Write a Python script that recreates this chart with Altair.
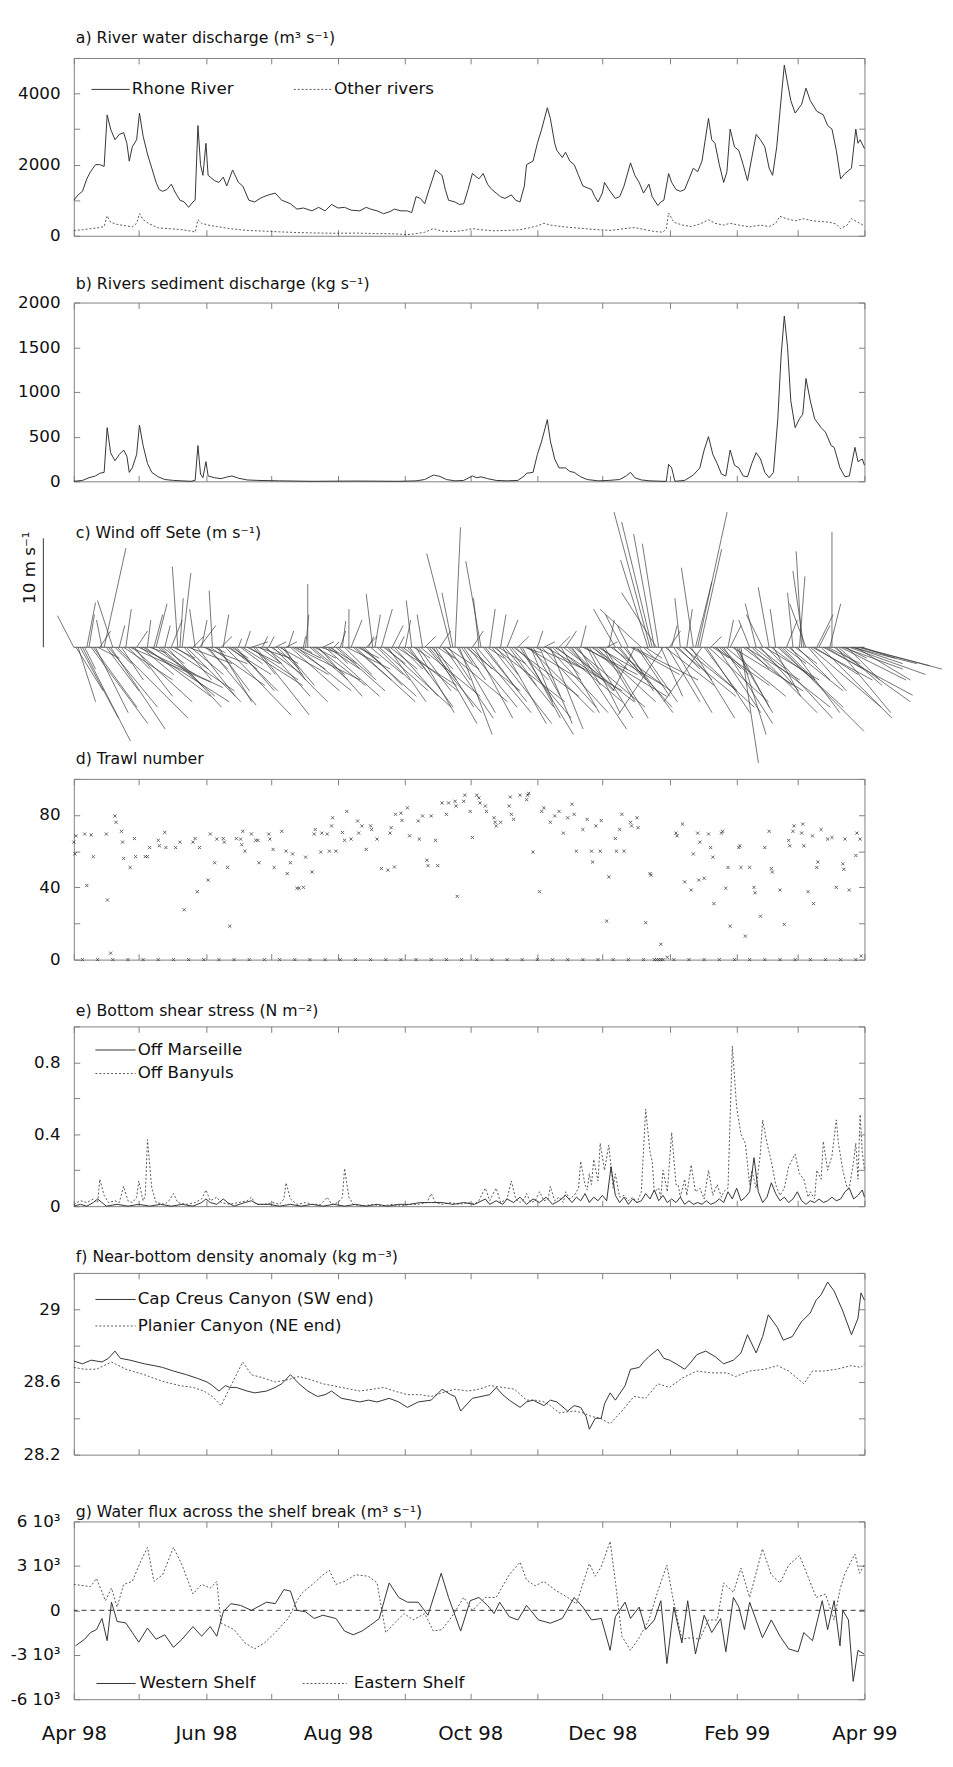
import altair as alt
import pandas as pd

# ------------------------------------------------------------------ data
MONTH_DAYS = [0, 30, 61, 91, 122, 153, 183, 214, 244, 275, 306, 334, 365]
X_LABELS = {0: "Apr 98", 61: "Jun 98", 122: "Aug 98", 183: "Oct 98",
            244: "Dec 98", 306: "Feb 99", 365: "Apr 99"}

TITLES = ["a) River water discharge (m³ s⁻¹)",
          "b) Rivers sediment discharge (kg s⁻¹)",
          "c) Wind off Sete (m s⁻¹)",
          "d) Trawl number",
          "e) Bottom shear stress (N m⁻²)",
          "f) Near-bottom density anomaly (kg m⁻³)",
          "g)  Water flux across the shelf break (m³ s⁻¹)"]

# a) river water discharge (day since 1 Apr 1998, m3/s)
RHONE = [(0,1000),(2,1150),(4,1250),(6,1600),(7.7,1800),(10,2000),(12,2000),(14,1950),(15.4,3400),(17,3000),(19,2700),(21,2850),(23,2900),(24.5,2600),(25.6,2100),(27,2500),(29,2700),(30.3,3450),(32,2800),(34,2300),(36,1900),(38,1500),(39.4,1300),(41,1250),(43,1300),(45,1450),(47,1200),(49,1000),(51,950),(53,800),(55,950),(56,1000),(57.3,3100),(58.5,2000),(59.6,1700),(61,2600),(62,1700),(63,1650),(65,1550),(67,1500),(69,1650),(70.6,1400),(73.3,1850),(76,1500),(78,1400),(80.8,1000),(83.5,950),(86,1050),(87.7,1100),(90,1150),(93,1200),(96,1000),(100,900),(103,750),(106,780),(110,700),(113,800),(116,700),(119,880),(122,780),(125,800),(128,720),(132,700),(135,800),(137,750),(140,700),(143,620),(146,680),(148,750),(151,700),(154,700),(156,650),(158,1100),(160,1050),(162,900),(164,1300),(167,1850),(170,1700),(171.5,1300),(173,1000),(176,950),(178,880),(180,900),(182,1300),(184,1750),(187,1600),(189,1750),(191,1450),(193,1300),(195,1200),(197,1100),(199,1050),(202,1150),(204,1000),(206,950),(208,1400),(209,2000),(212,2100),(214,2600),(216,3000),(218.6,3600),(220,3300),(222,2600),(223,2400),(225.5,2200),(227,2350),(229,2100),(231,2000),(233,1700),(235,1400),(237,1350),(239,1300),(240.5,1100),(242,950),(244,1200),(245,1500),(247,1300),(250,1050),(252,1100),(254,1400),(257,2050),(259,1700),(261,1500),(263,1200),(265.5,1450),(267,1100),(269.6,850),(271,950),(272.4,1000),(274.6,1750),(276,1500),(278,1300),(280,1250),(282,1300),(284,1600),(286,1900),(288,1800),(290,2100),(293,3300),(294.5,2700),(296,2600),(298,2000),(300,1500),(301.5,1800),(303,3000),(305,2500),(307,2400),(309,2000),(311,1550),(313,2200),(315,2850),(317,2700),(319,2500),(321,1900),(322.6,1700),(324.5,2500),(326,3500),(328,4800),(329.5,4300),(331,3800),(333,3450),(336,3700),(338,4150),(340,3800),(343,3500),(346,3400),(348,3100),(350,3000),(352,2400),(354,1600),(356,1750),(359,1900),(361,3000),(362,2600),(363,2700),(365,2450)]
OTHER_RIVERS = [(0,150),(4,170),(8,200),(12,230),(14,260),(15.4,560),(17,380),(20,320),(24,280),(27,250),(29,350),(30.3,620),(32,450),(35,330),(39,220),(44,200),(50,170),(55,120),(56,100),(57.3,450),(59,350),(62,300),(66,260),(72,200),(80,150),(88,130),(95,110),(103,90),(110,80),(120,70),(130,75),(140,60),(148,55),(154,30),(158,60),(162,100),(166,200),(170,130),(176,120),(180,150),(184,200),(188,170),(194,140),(200,150),(206,170),(210,220),(214,280),(217,350),(220,300),(225,260),(230,230),(236,200),(242,170),(248,150),(254,200),(259,230),(263,180),(268,120),(272,100),(273.5,200),(274.6,640),(277,380),(281,300),(285,260),(289,330),(293,450),(296,350),(300,300),(303,350),(307,300),(312,250),(317,300),(321,260),(324,350),(326,550),(329,480),(333,420),(337,480),(341,420),(345,400),(349,380),(352,330),(354,200),(357,300),(359,480),(362,380),(365,280)]

# b) sediment discharge (kg/s)
SEDIMENT = [(0,0),(4,10),(7,40),(10,60),(12,90),(14,100),(15.4,600),(17,320),(19,230),(21,300),(23,350),(24.5,280),(25.6,100),(27,150),(29,300),(30.3,630),(32,400),(34,200),(36,100),(39,50),(42,20),(46,10),(50,5),(54,0),(56,10),(57.3,400),(58.5,80),(59.6,40),(61,220),(62,60),(65,40),(68,30),(71,50),(73,60),(76,35),(80,15),(85,10),(95,5),(110,0),(130,3),(150,0),(158,5),(162,20),(166,70),(169,55),(172,20),(176,5),(180,10),(184,60),(186,40),(188,50),(191,30),(195,10),(200,5),(205,10),(208,60),(209,90),(212,100),(214,300),(216,450),(218.6,690),(220,450),(222,250),(224,150),(227,150),(229,110),(231,100),(234,50),(237,20),(242,5),(247,10),(252,20),(255,60),(257,100),(259,40),(262,15),(266,5),(272,0),(273.5,0),(274.6,190),(276,150),(277.5,0),(282,10),(284,40),(286,70),(289,150),(291,350),(293,500),(295,300),(297,200),(299,80),(301,60),(303,350),(305,180),(307,150),(309,60),(311,50),(313,200),(315,320),(317,250),(319,100),(321,40),(323,100),(325,700),(326.5,1400),(328,1850),(329.5,1500),(331,900),(333,600),(335,700),(336.5,750),(338,1150),(340,900),(342,700),(345,600),(347,550),(349.6,400),(351,380),(353.7,150),(356,50),(358,60),(360.6,380),(362,220),(364,250),(365,180)]

# c) wind sticks: (day, u east m/s, v north m/s)
WIND = [(0,-1.5,2.9),(2,1.6,-5.0),(4,4.4,-8.6),(6,0.8,4.1),(8,5.2,-7.0),(10,3.0,-6.0),(12,1.0,1.5),(14,2.0,9.1),(16,4.5,-5.5),(18,-1.4,4.3),(20,6.5,-6.5),(22,2.0,-3.0),(24,0.5,3.5),(26,7.4,-3.2),(28,3.5,-4.5),(30,7.7,-3.7),(32,7.9,-5.0),(34,0.3,2.5),(36,4.0,-2.5),(38,1.0,4.0),(40,5.0,-4.5),(42,0.5,2.0),(44,6.0,-4.0),(46,2.0,-1.0),(48,-0.5,7.4),(50,0.8,6.8),(52,5.0,-5.0),(54,3.0,-2.5),(56,-0.5,3.5),(58,1.5,2.0),(60,4.0,-1.5),(62,4.4,-5.3),(64,-0.3,5.2),(66,3.0,-4.0),(68,1.0,1.0),(70,6.0,-6.2),(72,2.5,-2.0),(74,4.0,-4.0),(76,0.3,0.8),(78,5.5,-3.5),(80,3.0,-1.5),(82,1.5,0.5),(84,4.9,-6.2),(86,2.0,-1.5),(88,3.5,-2.5),(90,0.5,1.0),(92,5.0,-5.0),(94,2.0,-2.0),(96,3.0,-3.5),(98,1.0,0.5),(100,4.5,-4.0),(102,6.0,-3.0),(104,2.0,-1.0),(106,0.2,1.0),(108,0.0,5.8),(110,3.0,-2.5),(112,4.5,-3.5),(114,1.5,-0.5),(116,5.0,-4.5),(118,2.5,-1.5),(120,0.5,0.5),(122,3.5,-3.0),(124,0.3,2.4),(126,4.0,-2.0),(128,1.0,2.5),(130,5.5,-5.0),(132,2.0,-1.5),(134,3.5,-3.5),(136,0.5,1.0),(138,-0.6,4.9),(140,3.0,-3.0),(142,1.0,3.5),(144,6.0,-5.5),(146,2.5,-2.0),(148,4.0,-4.5),(150,0.5,1.0),(152,5.0,-4.0),(154,2.0,-2.5),(156,-0.5,4.3),(158,3.5,-6.0),(160,5.5,-4.5),(162,1.0,1.0),(164,2.5,-3.0),(166,4.0,-7.0),(168,1.5,-1.0),(170,6.0,-5.0),(172,3.0,-2.0),(174,-2.2,8.6),(176,0.5,11.0),(178,3.0,-8.0),(180,2.0,-3.0),(182,4.5,-5.5),(184,1.0,1.5),(186,5.0,-6.0),(188,-1.4,7.9),(190,3.0,-4.0),(192,0.5,3.5),(194,6.5,-5.0),(196,2.5,-1.5),(198,4.0,-7.0),(200,1.0,2.5),(202,5.5,-6.5),(204,3.0,-3.0),(206,4.9,-8.0),(208,1.5,-0.5),(210,6.0,-6.0),(212,2.5,-4.5),(214,0.5,1.5),(216,5.0,-5.5),(218,7.0,-4.0),(220,3.0,-7.5),(222,4.5,-3.0),(224,1.0,1.0),(226,6.5,-5.0),(228,2.0,-2.0),(230,5.0,-7.5),(232,3.5,-4.0),(234,0.5,2.0),(236,7.5,-4.5),(238,4.0,-6.5),(240,2.5,-2.5),(242,6.0,-3.5),(244,3.0,-5.0),(246,1.0,0.5),(248,5.5,-4.0),(250,-2.0,3.5),(252,2.0,-2.5),(254,4.5,-6.0),(256,-1.0,2.0),(258,6.0,-3.0),(260,3.0,-4.5),(262,-3.8,3.5),(264,1.5,-1.0),(266,-3.3,12.4),(268,-1.9,10.4),(270,-1.5,9.5),(272,-4.1,-6.2),(274,3.0,-5.0),(276,0.5,2.0),(278,5.5,-4.5),(280,-0.5,4.5),(282,2.5,-3.0),(284,6.0,-5.5),(286,-1.1,7.3),(288,2.7,12.4),(290,-3.5,-5.0),(292,4.0,-6.0),(294,1.0,1.0),(296,5.0,-3.5),(298,2.0,-2.0),(300,4.5,-7.0),(302,0.5,2.5),(304,6.5,-4.0),(306,3.0,-5.5),(308,1.6,-10.6),(310,5.0,-3.0),(312,-1.0,2.5),(314,7.0,-5.5),(316,2.5,-2.0),(318,-1.5,3.0),(320,6.0,-6.5),(322,4.0,-3.0),(324,-0.5,3.5),(326,7.7,-7.7),(328,2.0,-1.5),(330,5.0,-4.0),(332,-0.5,5.0),(334,3.0,-3.0),(336,-0.5,8.8),(338,-1.5,4.0),(340,6.5,-5.5),(342,4.0,-2.5),(344,1.0,2.0),(346,8.2,-4.4),(348,3.0,-1.5),(350,0.0,10.6),(352,5.0,-6.0),(354,6.0,-3.0),(356,2.0,-1.0),(358,7.0,-2.5),(360,4.5,-1.5),(362,6.6,-1.7),(364,3.0,-1.0)]
WIND_ODD = [(1,2.5,-4.0),(3,3.5,-6.5),(5,1.0,-2.0),(7,0.5,3.0),(9,4.0,-5.5),(11,2.0,-1.0),(13,-0.5,2.5),(15,3.0,-4.0),(17,5.0,-7.5),(19,1.5,-1.5),(21,0.5,2.0),(23,4.5,-3.0),(25,2.0,-2.0),(27,5.5,-5.0),(29,1.0,1.5),(31,3.0,-2.5),(33,6.0,-4.5),(35,1.5,-0.5),(37,0.8,3.0),(39,4.0,-3.5),(41,2.0,-1.5),(43,5.0,-5.5),(45,1.0,2.5),(47,3.0,-2.0),(49,0.3,4.5),(51,2.5,-3.0),(53,4.0,-1.5),(55,1.0,1.0),(57,3.5,-4.5),(59,0.5,2.5),(61,2.0,-2.0),(63,5.0,-3.5),(65,1.0,-0.5),(67,3.0,-5.0),(69,0.5,3.0),(71,4.0,-2.5),(73,1.5,-1.0),(75,3.5,-4.0),(77,2.0,-1.5),(79,0.5,1.5),(81,4.5,-3.0),(83,2.0,-2.5),(85,3.0,-1.0),(87,0.5,1.0),(89,4.0,-4.5),(91,2.5,-1.5),(93,1.0,0.5),(95,4.5,-2.5),(97,2.0,-3.0),(99,0.5,1.5),(101,3.0,-2.0),(103,5.0,-4.0),(105,1.0,-0.5),(107,0.3,3.0),(109,3.5,-3.0),(111,2.0,-1.0),(113,4.0,-4.5),(115,1.0,0.5),(117,3.0,-2.0),(119,1.5,-1.5),(121,4.5,-4.0),(123,0.5,1.5),(125,2.5,-2.5),(127,0.0,3.5),(129,3.5,-3.0),(131,2.0,-1.0),(133,5.0,-4.5),(135,1.0,1.0),(137,3.0,-2.5),(139,0.5,3.0),(141,4.5,-4.0),(143,2.0,-1.5),(145,3.5,-5.0),(147,1.0,2.0),(149,5.5,-3.5),(151,2.0,-2.0),(153,0.5,2.5),(155,4.0,-5.5),(157,1.5,-1.0),(159,3.0,-4.0),(161,-0.5,3.0),(163,5.0,-6.0),(165,2.0,-2.0),(167,3.5,-5.5),(169,1.0,1.5),(171,4.5,-6.5),(173,2.0,-3.0),(175,-1.0,5.0),(177,3.5,-6.0),(179,1.0,-1.5),(181,5.0,-4.0),(183,2.0,-2.0),(185,3.5,-6.5),(187,-0.5,4.5),(189,4.0,-5.0),(191,1.5,-1.0),(193,5.5,-7.0),(195,2.0,-2.5),(197,0.5,3.0),(199,4.5,-5.5),(201,2.5,-3.5),(203,6.0,-4.5),(205,1.0,1.0),(207,3.5,-6.5),(209,5.0,-3.0),(211,2.0,-5.0),(213,4.5,-2.0),(215,3.0,-7.0),(217,1.0,0.5),(219,5.5,-6.0),(221,2.5,-2.5),(223,6.0,-5.0),(225,3.5,-6.0),(227,1.0,1.5),(229,4.0,-4.0),(231,6.5,-5.5),(233,2.0,-3.5),(235,5.0,-2.5),(237,3.0,-6.0),(239,1.5,-1.0),(241,5.5,-5.0),(243,2.5,-2.0),(245,4.0,-6.5),(247,0.5,2.5),(249,3.0,-3.0),(251,5.0,-5.5),(253,-1.5,3.0),(255,2.5,-4.0),(257,4.5,-2.5),(259,-2.0,-4.0),(261,3.5,-5.0),(263,1.0,-1.0),(265,-2.5,8.0),(267,-2.8,11.5),(269,-3.2,5.0),(271,2.0,-4.5),(273,4.5,-3.5),(275,1.0,1.5),(277,3.5,-6.0),(279,2.0,-2.0),(281,5.0,-4.0),(283,0.5,3.5),(285,4.0,-6.5),(287,1.5,6.0),(289,2.0,9.0),(291,3.0,-4.0),(293,5.5,-5.0),(295,1.5,-1.0),(297,4.0,-6.0),(299,2.5,-2.5),(301,5.5,-4.5),(303,1.0,2.0),(305,3.5,-6.0),(307,2.5,-8.0),(309,4.5,-3.5),(311,2.0,-2.0),(313,6.0,-6.0),(315,-1.0,4.0),(317,3.5,-4.0),(319,5.0,-3.0),(321,-1.0,5.5),(323,2.5,-4.5),(325,6.0,-5.5),(327,3.0,-3.0),(329,1.0,2.5),(331,4.5,-6.0),(333,2.0,-1.5),(335,0.5,6.5),(337,-1.0,7.0),(339,3.5,-4.0),(341,5.5,-3.0),(343,1.5,3.0),(345,6.5,-6.5),(347,3.5,-2.0),(349,1.0,4.0),(351,7.0,-5.0),(353,4.0,-3.5),(355,5.5,-2.0),(357,3.0,-3.0),(359,6.0,-1.5),(361,5.0,-3.0),(363,7.5,-2.0)]
SCALE_BAR = [0, 10]

# d) trawl number
TRAWL = [(0,65),(0.5,58.5),(1,68.5),(5,69.5),(6,41),(8,69),(9,57),(15,69.5),(15.5,33),(17,3.6),(19,79.5),(19.5,76),(22,71),(22.5,65),(23,56),(26,51),(28,67),(28.5,57),(33,57),(34,57),(35,62),(39,66),(39.5,63),(42,70.4),(42.5,62),(47,62),(49,65),(51,27.6),(55,65),(56,67),(57,37.6),(58,62),(62,44),(63,69.5),(65,53.6),(66,66.7),(69,67),(69.5,65),(71,51),(72,18.5),(75,67),(77,66.7),(77.5,63.6),(78,71),(79,60),(82,69.5),(84,66),(85,66),(85.5,53.6),(90,69.5),(90.5,66.7),(92,61),(92.5,51),(96,71),(98,60),(98.5,47.6),(100,53.6),(101,58.5),(103,39.5),(104,39.5),(106,40),(107,56.7),(110,48.5),(111,69.5),(111.5,72),(114,59.5),(114.5,70),(117,69.5),(118,60),(119,74),(119.5,78.5),(121,60),(124,70.4),(125,66),(126,82),(128,66.7),(131,76.7),(131.5,70),(133,74),(135,61),(137,74),(137.5,72),(140,66.7),(142,50.4),(145,49.5),(146,70),(146.5,73),(148,51.3),(148.5,80.4),(151,81),(151.5,77),(154,84),(155,68.5),(159,76.7),(159.5,66.7),(161,79.5),(163,55),(163.5,52),(165,79.5),(167,66),(168,52),(170,86.7),(172,80.4),(173,86.7),(176,87.6),(176.5,85),(177,35),(180,87.6),(180.5,91),(183,82),(184,67.6),(186,91),(187,89.5),(187.5,86.7),(190,85),(190.5,82),(194,78.5),(194.5,76),(195,74),(197,76),(201,85),(201.5,90),(202,80.4),(203,77.6),(206,91),(209,88.5),(209.5,91),(210,92),(212,59.5),(215,37.6),(216,82),(217,84),(220,76),(222,79.5),(224,82),(226,70),(228,78.5),(230,86),(231,80.4),(232,60),(235,72),(237,77.6),(239,60),(239.5,54),(241,74),(243,60),(243.5,77),(246,21.3),(247,45.8),(250,67),(250.5,60),(252,72),(253,80.4),(254,60),(257,76),(257.5,74),(260,78.5),(260.5,73),(264,20.4),(266,47.6),(266.5,46.7),(271,8.5),(274,1.3),(278,70),(278.5,68.5),(281,75),(282,43),(285,38.5),(286,58.5),(288,70),(288.5,44),(289,65),(291,45),(293,69.5),(294,62),(295,56.7),(295.5,31),(299,70),(299.5,71),(301,39.5),(302,51),(303,18.5),(307,62),(307.5,63),(308,51),(310,13),(312,51),(314,40),(314.5,37),(317,24),(319,62),(321,71),(322,50.4),(322.5,48.5),(326,38.5),(328,19.5),(330,66),(330.5,63),(332,71),(332.5,74),(336,70),(336.5,75),(337,63),(339,37.6),(341,68.5),(341.5,31),(343,51),(343.5,54),(345,72),(348,66.7),(350,67.6),(352,40),(355,53),(355.5,50),(356,66.7),(358,38.5),(361,57.6),(361.5,70),(363,66.7),(363.5,2)]
TRAWL_ZERO_DAYS = [4, 11, 18, 25, 32, 39, 46, 53, 60, 67, 74, 81, 88, 95, 102, 109, 116, 123, 130, 137, 144, 151, 158, 165, 172, 179, 186, 193, 200, 207, 214, 221, 228, 235, 242, 249, 256, 263, 268, 269, 270, 271, 272, 277, 284, 291, 298, 305, 312, 319, 326, 333, 340, 347, 354, 361]

# e) bottom shear stress (N/m2)
MARSEILLE = [(0,0.0),(3,0.01),(6,0.0),(9,0.02),(11,0.04),(13,0.02),(15,0.0),(20,0.01),(25,0.0),(30,0.01),(35,0.0),(40,0.01),(45,0.0),(50,0.01),(55,0.0),(59,0.02),(61,0.04),(63,0.02),(66,0.01),(69,0.04),(71,0.02),(74,0.0),(79,0.02),(82,0.03),(85,0.01),(90,0.01),(95,0.0),(100,0.01),(105,0.0),(110,0.01),(115,0.0),(120,0.01),(125,0.0),(130,0.01),(135,0.0),(140,0.01),(145,0.0),(150,0.01),(155,0.01),(160,0.02),(165,0.02),(170,0.02),(175,0.01),(180,0.02),(185,0.01),(190,0.04),(192,0.01),(195,0.03),(198,0.01),(200,0.04),(203,0.02),(206,0.05),(209,0.01),(212,0.04),(215,0.02),(218,0.05),(221,0.01),(224,0.03),(227,0.06),(230,0.02),(232,0.05),(234,0.03),(236,0.07),(238,0.02),(240,0.05),(242,0.03),(244,0.06),(246,0.03),(248,0.22),(250,0.06),(252,0.02),(254,0.05),(256,0.01),(258,0.04),(260,0.02),(262,0.03),(264,0.07),(266,0.04),(268,0.09),(270,0.03),(272,0.06),(274,0.02),(276,0.04),(278,0.02),(280,0.05),(282,0.01),(284,0.03),(286,0.01),(288,0.02),(290,0.01),(292,0.03),(294,0.01),(296,0.02),(298,0.04),(300,0.02),(302,0.08),(304,0.04),(306,0.1),(308,0.03),(310,0.05),(312,0.08),(314,0.27),(316,0.08),(318,0.02),(320,0.05),(322,0.13),(324,0.07),(326,0.03),(328,0.05),(330,0.02),(332,0.04),(334,0.08),(336,0.03),(338,0.01),(340,0.03),(342,0.02),(344,0.04),(346,0.02),(348,0.03),(350,0.05),(352,0.03),(354,0.04),(356,0.08),(358,0.1),(360,0.04),(362,0.06),(364,0.09),(365,0.05)]
BANYULS = [(0,0.01),(3,0.03),(6,0.02),(9,0.04),(11,0.02),(12,0.15),(14,0.06),(16,0.02),(19,0.03),(21,0.02),(23,0.11),(25,0.03),(27,0.02),(29,0.05),(30,0.14),(32,0.03),(33,0.06),(34,0.37),(36,0.1),(38,0.02),(42,0.01),(44,0.03),(46,0.07),(48,0.02),(52,0.01),(56,0.02),(59,0.04),(61,0.09),(63,0.03),(66,0.05),(68,0.02),(72,0.01),(76,0.02),(80,0.03),(82,0.05),(84,0.01),(88,0.01),(92,0.02),(95,0.01),(97,0.04),(98,0.13),(100,0.04),(103,0.01),(107,0.02),(110,0.01),(114,0.01),(117,0.05),(119,0.01),(122,0.02),(124,0.05),(125,0.21),(127,0.05),(129,0.01),(133,0.0),(138,0.01),(142,0.0),(147,0.01),(151,0.0),(155,0.01),(159,0.01),(163,0.02),(165,0.07),(167,0.02),(170,0.01),(174,0.02),(178,0.01),(182,0.02),(185,0.01),(187,0.03),(189,0.08),(190,0.1),(192,0.03),(194,0.08),(195,0.1),(197,0.02),(200,0.04),(202,0.14),(204,0.04),(206,0.02),(208,0.04),(209,0.07),(211,0.02),(213,0.03),(215,0.08),(217,0.03),(219,0.04),(220,0.11),(222,0.03),(224,0.05),(226,0.02),(227,0.08),(229,0.04),(231,0.06),(233,0.1),(234,0.25),(236,0.12),(237,0.09),(238,0.18),(239,0.12),(240,0.26),(242,0.14),(243,0.35),(245,0.2),(247,0.34),(249,0.1),(250,0.18),(252,0.05),(254,0.06),(256,0.03),(258,0.05),(260,0.02),(262,0.08),(264,0.54),(266,0.3),(267,0.25),(268,0.08),(270,0.1),(271,0.05),(272,0.2),(274,0.08),(276,0.41),(278,0.12),(279,0.12),(280,0.05),(282,0.15),(283,0.06),(285,0.23),(287,0.08),(289,0.1),(291,0.04),(293,0.2),(295,0.06),(297,0.12),(299,0.05),(300,0.08),(302,0.1),(304,0.89),(306,0.55),(308,0.4),(310,0.35),(312,0.12),(313,0.2),(315,0.1),(317,0.3),(318,0.48),(320,0.35),(322,0.25),(324,0.12),(326,0.06),(328,0.1),(330,0.22),(333,0.29),(335,0.18),(337,0.15),(339,0.05),(340,0.08),(342,0.04),(343,0.2),(345,0.15),(346,0.36),(348,0.2),(350,0.28),(352,0.48),(353,0.35),(355,0.2),(357,0.1),(358,0.1),(360,0.25),(361,0.35),(362,0.15),(363,0.51),(364,0.3),(365,0.2)]

# f) near-bottom density anomaly (kg/m3)
CAP_CREUS = [(0,28.715),(4,28.70),(8,28.72),(13,28.71),(16,28.73),(19,28.77),(21.5,28.73),(26,28.72),(32.5,28.70),(37,28.69),(41,28.68),(46,28.66),(52,28.64),(57,28.62),(61.5,28.60),(64,28.58),(67,28.55),(70,28.58),(72,28.57),(75,28.57),(80,28.55),(83.5,28.54),(89,28.55),(93,28.57),(96,28.59),(100,28.64),(104,28.59),(108,28.55),(112.5,28.52),(116,28.53),(119,28.55),(123.5,28.51),(128,28.50),(132,28.49),(136,28.50),(140,28.49),(145.6,28.51),(150,28.49),(154,28.46),(159,28.49),(165,28.50),(170,28.56),(174,28.53),(176,28.52),(178.6,28.44),(184,28.51),(188,28.52),(192,28.53),(195,28.57),(198,28.53),(201,28.50),(206,28.46),(209,28.49),(212,28.50),(217,28.47),(220,28.50),(223,28.49),(228,28.44),(231,28.47),(234,28.46),(236.5,28.41),(238,28.34),(240.7,28.40),(243.5,28.40),(245,28.48),(247.6,28.54),(250,28.50),(254.5,28.58),(257,28.67),(261,28.68),(263,28.71),(265.5,28.74),(269.6,28.78),(272.4,28.73),(275,28.72),(278,28.70),(282,28.67),(285,28.71),(287.6,28.75),(291.7,28.77),(296,28.74),(300,28.70),(304.5,28.72),(308,28.76),(311,28.86),(315,28.76),(318,28.85),(320.6,28.97),(324.8,28.90),(327.5,28.83),(331.7,28.85),(335.8,28.93),(340,28.98),(342.7,29.05),(345,29.08),(348,29.15),(351,29.10),(355,28.99),(359,28.86),(362,28.95),(363.4,29.09),(365,29.05)]
PLANIER = [(0,28.68),(5,28.67),(10.5,28.67),(17.4,28.71),(24,28.67),(32.5,28.64),(37,28.62),(42,28.60),(49,28.58),(55,28.57),(60,28.55),(64,28.52),(68,28.47),(72.5,28.58),(78,28.71),(82,28.64),(88,28.62),(93,28.60),(98,28.61),(104,28.63),(110,28.61),(115,28.59),(123.5,28.57),(132,28.55),(138,28.56),(143,28.57),(148,28.55),(154,28.53),(160,28.53),(165,28.52),(170,28.54),(176,28.56),(182,28.55),(187,28.56),(192,28.58),(198,28.57),(203.5,28.56),(209,28.50),(213,28.50),(217,28.49),(220,28.47),(224,28.43),(231,28.44),(235,28.43),(239,28.41),(243,28.40),(247.6,28.37),(253,28.44),(258.6,28.52),(264,28.51),(269.6,28.59),(275,28.57),(280.7,28.62),(284,28.64),(287.6,28.66),(294.5,28.65),(301.5,28.65),(305.5,28.63),(312,28.66),(319,28.67),(324.8,28.69),(330,28.66),(337,28.59),(341,28.66),(346,28.66),(352,28.67),(359,28.69),(363.4,28.68),(365,28.70)]

# g) water flux across the shelf break (m3/s)
WESTERN = [(0.8,-2400),(5,-1950),(7.7,-1500),(10.5,-1300),(13,-550),(15.4,-2050),(17.4,550),(20,-750),(24,-850),(27,-1500),(30,-2150),(34,-1200),(38,-1950),(42,-1650),(46,-2500),(50,-1950),(55,-1100),(59,-1750),(63,-1100),(66,-1750),(69,-100),(72.5,450),(77,330),(82,0),(89,550),(93,450),(97,1400),(100,1300),(103,0),(107,-100),(111,-550),(115,-330),(121,-550),(125,-1400),(129,-1650),(133,-1400),(137,-1000),(141,-550),(145.6,1850),(150,870),(154,550),(159,550),(163.5,-330),(169.6,2500),(173,870),(178.6,-1400),(183,650),(187,870),(191,330),(194,-220),(196.6,550),(201,-430),(205,-650),(209,330),(214.5,-650),(220,-870),(225.5,-550),(231,870),(235,220),(239,-650),(243.5,-550),(247.6,-2700),(250,-430),(254.5,550),(257,-550),(261,220),(264,-1300),(268,-650),(271,650),(273.8,-3600),(277,220),(280.7,-2200),(283.4,650),(287,-2950),(291,-330),(294.5,-1500),(298.6,-550),(301,-2800),(304.5,870),(307,220),(309.6,-1300),(312,550),(317.9,-1850),(322,-650),(326,-1750),(330,-2600),(334.4,-2800),(337,-1500),(341,-2050),(345.5,650),(348,-1300),(351,650),(353.7,-2400),(355,0),(357.6,-650),(359.8,-4800),(362,-2700),(364.8,-2950)]
EASTERN = [(0,1750),(7.7,1600),(10.5,2150),(14.6,650),(17.4,1500),(20,220),(23,1750),(27,1950),(31,3350),(34,4250),(37,1950),(41,2400),(46,4250),(50,3050),(55,1100),(59,1750),(63,1500),(66,1950),(68,-870),(74,-1300),(79,-2200),(83.5,-2600),(88,-2200),(93,-1500),(99,-550),(103,650),(105.6,1200),(111,1850),(115,2400),(118,2700),(121,1750),(125,1950),(130,2400),(136,2300),(140,1850),(144,-1500),(148,-870),(152.5,-220),(156.6,-650),(162,-220),(166,-1400),(170,-1300),(174.5,-430),(180,870),(184,0),(190,870),(195,870),(201,2400),(206,3250),(209,2050),(213,1650),(217,1950),(223,1300),(228,870),(232,430),(238,3150),(240.7,2300),(243.5,2950),(247.6,4650),(250,1950),(253,-1750),(257,-2700),(261,-1850),(265.5,-650),(269.6,1300),(273.8,3050),(276.5,870),(280.7,-1950),(284.8,-1850),(289,-1950),(293,-650),(297,-650),(300,1850),(304.5,1200),(308,2850),(312,870),(317.9,4150),(322,2400),(326,1850),(330,3050),(335,3700),(338.6,2400),(342.7,870),(347,1100),(351,-650),(353.7,1400),(356,2500),(360.6,3800),(362.8,2500),(364.8,3050)]
ZERO_LINE = [0]

# axis ticks / labels per panel
A_TICKS, A_LABELS = [0, 1000, 2000, 3000, 4000, 5000], {0: "0", 2000: "2000", 4000: "4000"}
B_TICKS, B_LABELS = [0, 500, 1000, 1500, 2000], {0: "0", 500: "500", 1000: "1000", 1500: "1500", 2000: "2000"}
D_TICKS, D_LABELS = [0, 20, 40, 60, 80, 100], {0: "0", 40: "40", 80: "80"}
E_TICKS, E_LABELS = [0, 0.2, 0.4, 0.6, 0.8, 1.0], {0: "0", 0.4: "0.4", 0.8: "0.8"}
F_TICKS, F_LABELS = [28.2, 28.4, 28.6, 28.8, 29.0, 29.2], {28.2: "28.2", 28.6: "28.6", 29.0: "29"}
G_TICKS = [-6000, -3000, 0, 3000, 6000]
G_LABELS = {-6000: "-6 10³", -3000: "-3 10³", 0: "0", 3000: "3 10³", 6000: "6 10³"}

# ------------------------------------------------------------------ style
FONT = "DejaVu Sans"
W = 805
TICK = 6
FRAME_C = "#808080"
INK = "#333333"
DOT = "#555555"
TXT = "#111111"
XSCALE = alt.Scale(domain=[0, 365], nice=False, zero=False)
C_H = 167
C_BASE = 101          # px from top of panel c to the stick baseline
C_PX_PER_MS = 11.1
C_DOM = [-(C_H - C_BASE) / C_PX_PER_MS, C_BASE / C_PX_PER_MS]
K_DAYS_PER_MS = C_PX_PER_MS / (W / 365.0)


def lab_expr(mapping):
    expr = "''"
    for k, v in reversed(list(mapping.items())):
        expr = f"(abs(datum.value - ({k})) < 1e-6 ? '{v}' : {expr})"
    return expr


def x_axis(show):
    if show:
        return alt.Axis(orient="bottom", values=MONTH_DAYS, labelExpr=lab_expr(X_LABELS),
                        tickSize=TICK, offset=-TICK, domain=False, grid=False, title=None,
                        labelFontSize=20, labelPadding=25, labelFlush=False, labelOverlap=False,
                        labelColor=TXT, labelFont=FONT, tickColor=FRAME_C)
    return alt.Axis(orient="bottom", values=MONTH_DAYS, labels=False, tickSize=TICK,
                    offset=-TICK, domain=False, grid=False, title=None, tickColor=FRAME_C)


def y_enc(ydom, ticks, labels):
    return alt.Y("val:Q", scale=alt.Scale(domain=ydom, nice=False, zero=False),
                 axis=alt.Axis(orient="left", values=ticks, labelExpr=lab_expr(labels),
                               tickSize=TICK, offset=-TICK, domain=False, grid=False, title=None,
                               labelFontSize=17, labelPadding=14, labelOverlap=False,
                               labelFlush=False, labelColor=TXT, labelFont=FONT, tickColor=FRAME_C))


def frame_layer(ydom, ticks):
    df = pd.DataFrame({"day": [0], "val": [ydom[0]]})
    return alt.Chart(df).mark_point(opacity=0).encode(
        x=alt.X("day:Q", scale=XSCALE,
                axis=alt.Axis(orient="top", values=MONTH_DAYS, labels=False, tickSize=TICK,
                              offset=-TICK, domain=False, grid=False, title=None, tickColor=FRAME_C)),
        y=alt.Y("val:Q", scale=alt.Scale(domain=ydom, nice=False, zero=False),
                axis=alt.Axis(orient="right", values=ticks, labels=False, tickSize=TICK,
                              offset=-TICK, domain=False, grid=False, title=None, tickColor=FRAME_C)))


def line_layer(pairs, dotted, ydom, ticks, labels, show_x=False):
    df = pd.DataFrame(pairs, columns=["day", "val"])
    kw = dict(color=DOT if dotted else INK, strokeWidth=1)
    if dotted:
        kw["strokeDash"] = [2, 2]
    return alt.Chart(df).mark_line(**kw).encode(
        x=alt.X("day:Q", scale=XSCALE, axis=x_axis(show_x)),
        y=y_enc(ydom, ticks, labels))


def legend_layers(entries):
    out = []
    for name, dotted, x0, y, length, lx in entries:
        df = pd.DataFrame({"series": [name]})
        kw = dict(color=DOT if dotted else INK, strokeWidth=1)
        if dotted:
            kw["strokeDash"] = [2, 2]
        out.append(alt.Chart(df).mark_rule(**kw).encode(
            x=alt.value(x0), x2=alt.value(x0 + length), y=alt.value(y)))
        out.append(alt.Chart(df).mark_text(align="left", baseline="middle", font=FONT,
                                           fontSize=17, color=TXT).encode(
            x=alt.value(lx), y=alt.value(y), text="series:N"))
    return out


def title_layer(i, off):
    df = pd.DataFrame({"t": [TITLES[i]]})
    return alt.Chart(df).mark_text(align="left", baseline="alphabetic", font=FONT,
                                   fontSize=16, color=TXT).encode(
        x=alt.value(2), y=alt.value(-off), text="t:N")


def panel(layers, ydom, ticks, h, i, off):
    inner = alt.layer(*layers, title_layer(i, off))
    return alt.layer(inner, frame_layer(ydom, ticks)).resolve_scale(
        x="independent", y="independent").properties(width=W, height=h)


# a)
A_DOM = [0, 5000]
pa = panel([line_layer(OTHER_RIVERS, True, A_DOM, A_TICKS, A_LABELS),
            line_layer(RHONE, False, A_DOM, A_TICKS, A_LABELS)] +
           legend_layers([("Rhone River", False, 18, 32, 39, 59),
                          ("Other rivers", True, 224, 32, 39, 265)]),
           A_DOM, A_TICKS, 181, 0, 15)

# b)
B_DOM = [0, 2000]
pb = panel([line_layer(SEDIMENT, False, B_DOM, B_TICKS, B_LABELS)],
           B_DOM, B_TICKS, 182, 1, 14)

# c) wind sticks
wind_df = pd.DataFrame(WIND + WIND_ODD, columns=["day", "u", "v"])
c_y = alt.Scale(domain=C_DOM, nice=False, zero=False)
sticks = alt.Chart(wind_df).transform_calculate(
    x_end=f"datum.day + datum.u * {K_DAYS_PER_MS}", v0="0"
).mark_rule(color="#3a3a3a", strokeWidth=0.7).encode(
    x=alt.X("day:Q", scale=XSCALE, axis=None), x2="x_end:Q",
    y=alt.Y("v0:Q", scale=c_y, axis=None), y2="v:Q")
base_df = pd.DataFrame({"val": ZERO_LINE})
baseline = alt.Chart(base_df).mark_rule(color="#3a3a3a", strokeWidth=0.8).encode(
    y=alt.Y("val:Q", scale=c_y, axis=None))
bar_df = pd.DataFrame({"lo": [SCALE_BAR[0]], "hi": [SCALE_BAR[1]]})
bar = alt.Chart(bar_df).mark_rule(color=INK, strokeWidth=1).encode(
    x=alt.value(-31), y=alt.Y("lo:Q", scale=c_y, axis=None), y2="hi:Q")
bar_txt = alt.Chart(bar_df).mark_text(angle=270, font=FONT, fontSize=17, color=TXT).encode(
    x=alt.value(-45), y=alt.value(20), text=alt.value("10 m s⁻¹"))
pc = alt.layer(baseline, sticks, bar, bar_txt, title_layer(2, 10)).properties(
    width=W, height=C_H, view=alt.ViewBackground(stroke="transparent"))

# d) trawl number
D_DOM = [0, 100]
trawl_df = pd.concat([pd.DataFrame(TRAWL, columns=["day", "val"]),
                      pd.DataFrame({"day": TRAWL_ZERO_DAYS, "val": [0] * len(TRAWL_ZERO_DAYS)})])
pts = alt.Chart(trawl_df).mark_point(shape="M-1,-1L1,1M-1,1L1,-1", size=10, filled=False,
                                     color="#222222", strokeWidth=1).encode(
    x=alt.X("day:Q", scale=XSCALE, axis=x_axis(False)),
    y=y_enc(D_DOM, D_TICKS, D_LABELS))
pdd = panel([pts], D_DOM, D_TICKS, 184, 3, 15)

# e)
E_DOM = [0, 1.0]
pe = panel([line_layer(BANYULS, True, E_DOM, E_TICKS, E_LABELS),
            line_layer(MARSEILLE, False, E_DOM, E_TICKS, E_LABELS)] +
           legend_layers([("Off Marseille", False, 22, 24, 41, 65),
                          ("Off Banyuls", True, 22, 48, 41, 65)]),
           E_DOM, E_TICKS, 183, 4, 11)

# f)
F_DOM = [28.2, 29.2]
pf = panel([line_layer(PLANIER, True, F_DOM, F_TICKS, F_LABELS),
            line_layer(CAP_CREUS, False, F_DOM, F_TICKS, F_LABELS)] +
           legend_layers([("Cap Creus Canyon (SW end)", False, 22, 27, 41, 65),
                          ("Planier Canyon (NE end)", True, 22, 54, 41, 65)]),
           F_DOM, F_TICKS, 185, 5, 11)

# g)
G_DOM = [-6000, 6000]
zero_df = pd.DataFrame({"val": ZERO_LINE})
zero_rule = alt.Chart(zero_df).mark_rule(color=INK, strokeWidth=1, strokeDash=[5, 4]).encode(
    y=y_enc(G_DOM, G_TICKS, G_LABELS))
pg = panel([zero_rule,
            line_layer(EASTERN, True, G_DOM, G_TICKS, G_LABELS, show_x=True),
            line_layer(WESTERN, False, G_DOM, G_TICKS, G_LABELS, show_x=True)] +
           legend_layers([("Western Shelf", False, 23, 165, 40, 67),
                          ("Eastern Shelf", True, 233, 165, 45, 285)]),
           G_DOM, G_TICKS, 181, 6, 5)

chart = alt.vconcat(pa, pb, pc, pdd, pe, pf, pg, spacing=68, bounds="flush").properties(
    padding={"left": 1, "top": 6, "right": 2, "bottom": 0}
).configure_view(stroke=FRAME_C, strokeWidth=1).configure_axis(tickWidth=1)

chart.save("out.html", embed_options={"renderer": "svg", "actions": False})
